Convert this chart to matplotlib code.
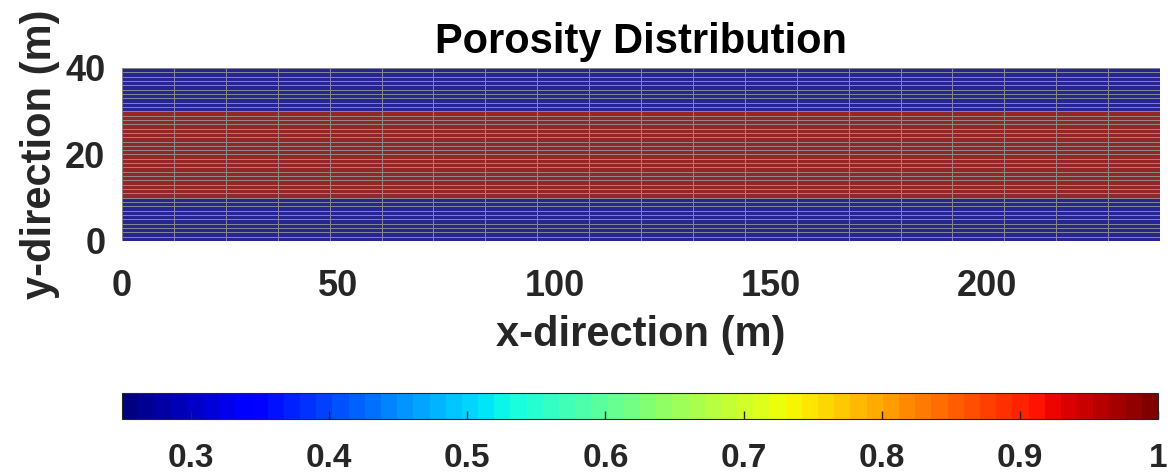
import numpy as np
import matplotlib
matplotlib.use("Agg")
import matplotlib.pyplot as plt
from matplotlib.colors import ListedColormap

plt.rcParams['font.family'] = ['Liberation Sans', 'DejaVu Sans']
plt.rcParams['font.weight'] = 'bold'

# reservoir grid (m)
x_edges = np.arange(0, 241, 12)
y_edges = np.arange(0, 41, 1)

# layered porosity: layer top depth and porosity value
layer_tops = [10, 30, 40]
layer_poro = [0.25, 1.0, 0.25]

y_mid = 0.5 * (y_edges[:-1] + y_edges[1:])
row_poro = np.array([layer_poro[np.searchsorted(layer_tops, y)] for y in y_mid])
poro = np.tile(row_poro[:, None], (1, len(x_edges) - 1))

cmap = ListedColormap(plt.get_cmap('jet')(np.linspace(0, 1, 64)))

fig = plt.figure(figsize=(11.75, 4.76), dpi=100)
ax = fig.add_axes([122 / 1175, 1 - 241 / 476, 1038 / 1175, 173 / 476])
mesh = ax.pcolormesh(x_edges, y_edges, poro, cmap=cmap, vmin=0.25, vmax=1.0,
                     edgecolors=(0.6, 0.6, 0.6), linewidth=0.6, alpha=0.85)
ax.set_xlim(0, 240)
ax.set_ylim(0, 40)
ax.set_xticks([0, 50, 100, 150, 200])
ax.set_yticks([0, 20, 40])
ax.tick_params(direction='in', length=0, labelsize=26, colors='#262626')
ax.tick_params(axis='x', pad=20)
ax.tick_params(axis='y', pad=12)
for s in ax.spines.values():
    s.set_visible(False)
ax.set_title('Porosity Distribution', fontsize=30, fontweight='bold', pad=11)
ax.set_xlabel('x-direction (m)', fontsize=30, fontweight='bold', labelpad=8,
              color='#262626')
ax.set_ylabel('y-direction (m)', fontsize=30, fontweight='bold', labelpad=4,
              color='#262626')

cax = fig.add_axes([122 / 1175, 1 - 419 / 476, 1036 / 1175, 26 / 476])
cb = fig.colorbar(mesh, cax=cax, orientation='horizontal')
cb.solids.set_alpha(1)
cb.set_ticks([0.3, 0.4, 0.5, 0.6, 0.7, 0.8, 0.9, 1.0])
cb.set_ticklabels(['0.3', '0.4', '0.5', '0.6', '0.7', '0.8', '0.9', '1'])
cax.tick_params(direction='in', length=6, width=1, labelsize=24,
                colors='#262626', pad=17)
cb.outline.set_linewidth(0.8)
cb.outline.set_edgecolor('#262626')

fig.savefig('out.png', dpi=100)
